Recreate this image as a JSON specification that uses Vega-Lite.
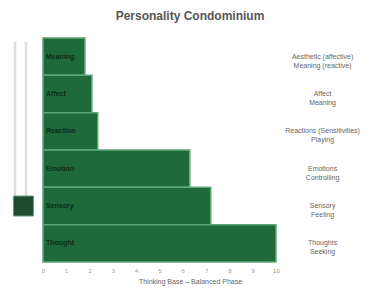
{
  "$schema": "https://vega.github.io/schema/vega-lite/v6.json",
  "width": 294,
  "height": 224,
  "autosize": {"type": "none"},
  "padding": {"left": 43, "top": 38, "right": 39, "bottom": 30},
  "background": "white",
  "config": {"view": {"stroke": null}, "font": "Liberation Sans",
    "axisX": {"values": [0, 1, 2, 3, 4, 5, 6, 7, 8, 9, 10], "labelOverlap": false, "labelFlush": false, "domain": false, "ticks": false, "grid": false,
      "labelFontSize": 6, "labelColor": "#999999", "labelPadding": 5, "titleFontSize": 7, "titleFontWeight": "normal", "titleColor": "#666666", "titlePadding": 4}},
  "title": {"text": "Personality Condominium", "fontSize": 12, "fontWeight": "bold", "color": "#555555", "anchor": "middle", "offset": 14},
  "data": {"values": [
    {"floor": "Meaning", "label": "Meaning", "desc": ["Aesthetic (affective)", "Meaning (reactive)"], "score": 1.8},
    {"floor": "Affect", "label": "Affect", "desc": ["Affect", "Meaning"], "score": 2.1},
    {"floor": "Reaction", "label": "Reaction", "desc": ["Reactions (Sensitivities)", "Playing"], "score": 2.35},
    {"floor": "Emotion", "label": "Emotion", "desc": ["Emotions", "Controlling"], "score": 6.3},
    {"floor": "Senses", "label": "Sensory", "desc": ["Sensory", "Feeling"], "score": 7.2},
    {"floor": "Thought", "label": "Thought", "desc": ["Thoughts", "Seeking"], "score": 10}
  ]},
  "encoding": {
    "y": {"field": "floor", "type": "nominal", "sort": null, "scale": {"paddingInner": 0, "paddingOuter": 0}, "axis": null}
  },
  "layer": [
    {
      "mark": {"type": "bar", "color": "#1e6a3a", "stroke": "#5ea877", "strokeWidth": 1.5},
      "encoding": {
        "x": {"field": "score", "type": "quantitative", "scale": {"domain": [0, 12.62], "nice": false},
          "axis": {"values": [0, 1, 2, 3, 4, 5, 6, 7, 8, 9, 10], "labelOverlap": false, "title": "Thinking Base – Balanced Phase"}}
      }
    },
    {
      "mark": {"type": "text", "align": "left", "dx": 3, "fontSize": 7, "fontWeight": "bold", "color": "#0b2e16"},
      "encoding": {"x": {"datum": 0, "axis": {"values": [0, 1, 2, 3, 4, 5, 6, 7, 8, 9, 10], "labelOverlap": false, "title": "Thinking Base – Balanced Phase"}}, "text": {"field": "label"}}
    },
    {
      "mark": {"type": "text", "align": "center", "fontSize": 7, "color": "#666666", "lineHeight": 9, "baseline": "middle"},
      "encoding": {"x": {"datum": 12, "axis": {"values": [0, 1, 2, 3, 4, 5, 6, 7, 8, 9, 10], "labelOverlap": false, "title": "Thinking Base – Balanced Phase"}}, "text": {"field": "desc"}}
    },
    {
      "data": {"values": [{"part": "shaft"}]},
      "mark": {"type": "rule", "color": "#dddddd", "strokeWidth": 2.5},
      "encoding": {"x": {"datum": -1.2, "axis": {"values": [0, 1, 2, 3, 4, 5, 6, 7, 8, 9, 10], "labelOverlap": false, "title": "Thinking Base – Balanced Phase"}}, "y": {"datum": "Meaning", "bandPosition": 0.1}, "y2": {"datum": "Senses"}}
    },
    {
      "data": {"values": [{"part": "shaft"}]},
      "mark": {"type": "rule", "color": "#dddddd", "strokeWidth": 2.5},
      "encoding": {"x": {"datum": -0.73, "axis": {"values": [0, 1, 2, 3, 4, 5, 6, 7, 8, 9, 10], "labelOverlap": false, "title": "Thinking Base – Balanced Phase"}}, "y": {"datum": "Meaning", "bandPosition": 0.1}, "y2": {"datum": "Senses"}}
    },
    {
      "data": {"values": [{"part": "car", "floor": "Senses"}]},
      "mark": {"type": "point", "shape": "square", "filled": true, "size": 400, "color": "#1d4a30", "stroke": "#6a9a7e", "strokeWidth": 1, "opacity": 1},
      "encoding": {"x": {"datum": -0.84, "axis": {"values": [0, 1, 2, 3, 4, 5, 6, 7, 8, 9, 10], "labelOverlap": false, "title": "Thinking Base – Balanced Phase"}}, "y": {"field": "floor", "type": "nominal"}}
    }
  ]
}
